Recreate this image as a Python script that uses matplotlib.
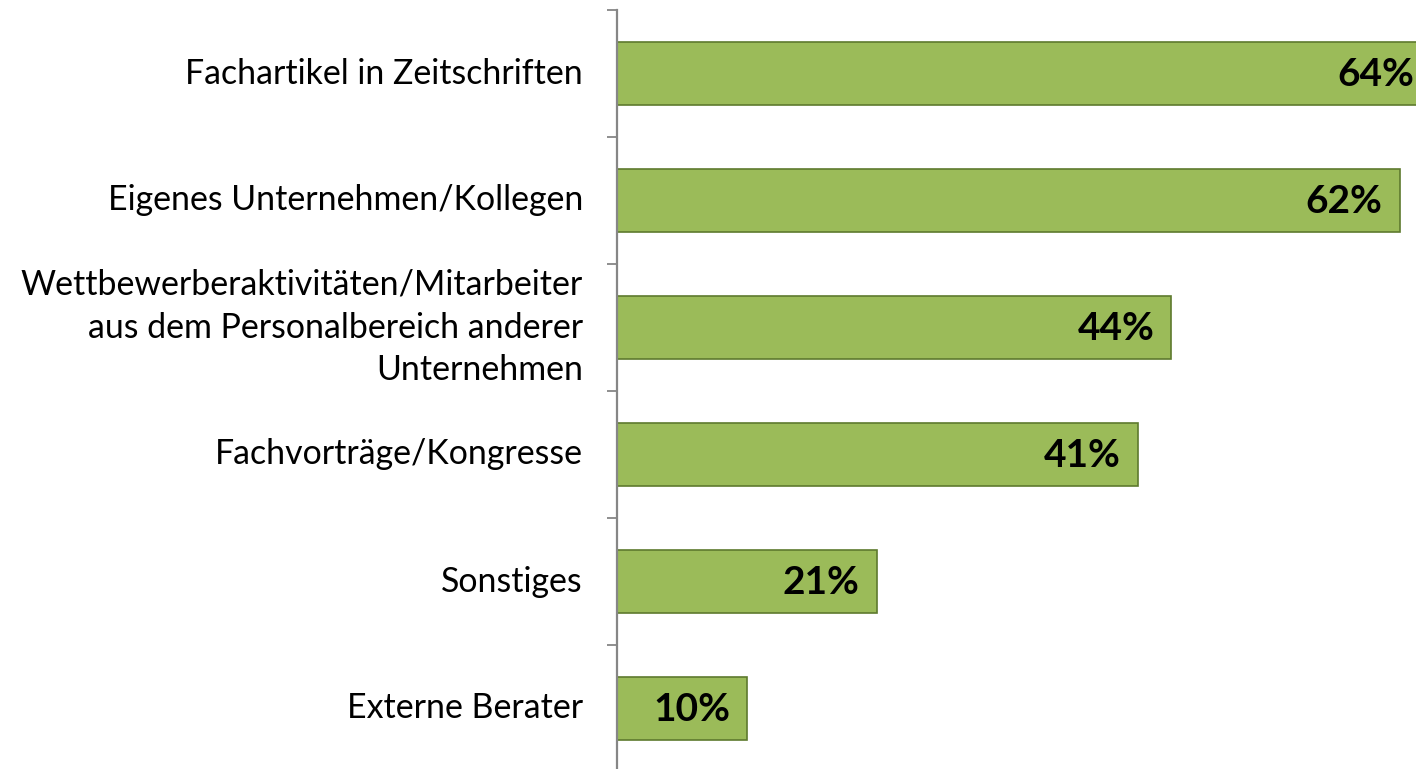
import matplotlib
matplotlib.use("Agg")
import matplotlib.pyplot as plt

categories = [
    "Fachartikel in Zeitschriften",
    "Eigenes Unternehmen/Kollegen",
    "Wettbewerberaktivitäten/Mitarbeiter\naus dem Personalbereich anderer\nUnternehmen",
    "Fachvorträge/Kongresse",
    "Sonstiges",
    "Externe Berater",
]
values = [63.8, 62.4, 44.2, 41.5, 20.7, 10.4]
value_labels = ["64%", "62%", "44%", "41%", "21%", "10%"]

W, H = 1416, 769
fig = plt.figure(figsize=(W / 100, H / 100), dpi=100)
left_px, right_px, top_px, bot_px = 617, 1416, 10, 772
ax = fig.add_axes([left_px / W, (H - bot_px) / H,
                   (right_px - left_px) / W, (bot_px - top_px) / H])

xmax = 63.7
y = list(range(len(categories)))
ax.barh(y, values, height=0.5, color="#9BBB59", edgecolor="#5E7A2E", linewidth=1.2, zorder=2)
ax.set_xlim(0, xmax)
ax.set_ylim(len(categories) - 0.5, -0.5)

for s in ["top", "right", "bottom"]:
    ax.spines[s].set_visible(False)
ax.spines["left"].set_color("#868686")
ax.spines["left"].set_linewidth(1.6)
ax.set_xticks([])
ax.set_yticks([i - 0.5 for i in range(len(categories) + 1)])
ax.set_yticklabels([])
ax.tick_params(axis="y", direction="out", length=7, width=1.3, color="#868686")

font = "Lato"
for i, (c, v, lab) in enumerate(zip(categories, values, value_labels)):
    ax.annotate(c, xy=(0, i), xycoords="data", xytext=(-(left_px - 583) * 0.72, 0),
                textcoords="offset points", ha="right", va="center",
                fontsize=24.4, family=font, linespacing=1.42, annotation_clip=False)
    if v >= xmax:
        xv, off = xmax, -2
    else:
        xv, off = v, -17
    ax.annotate(lab, xy=(xv, i), xycoords="data", xytext=(off * 0.72, -1),
                textcoords="offset points", ha="right", va="center",
                fontsize=28, fontweight="bold", family=font, annotation_clip=False)

fig.savefig("out.png", dpi=100)
